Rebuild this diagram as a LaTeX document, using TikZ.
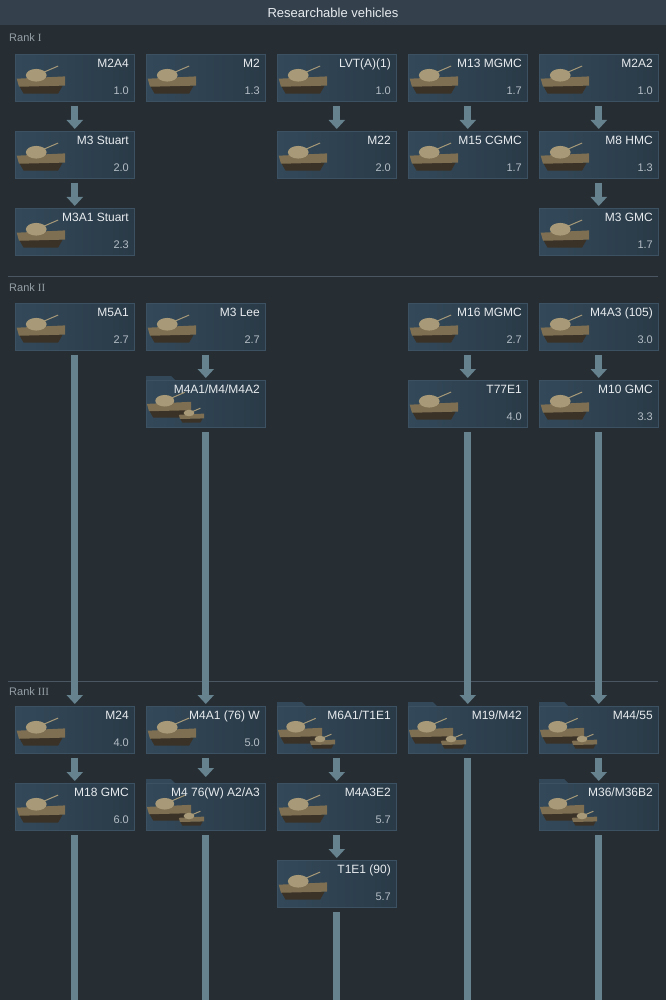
\documentclass[tikz,border=0pt]{standalone}
\usepackage{fontspec}
\setmainfont{Liberation Sans}
\newfontfamily\romf{Liberation Serif}
\usetikzlibrary{arrows.meta}
\definecolor{bg}{HTML}{262D33}
\definecolor{bar}{HTML}{34414D}
\definecolor{cardL}{HTML}{33495A}
\definecolor{cardR}{HTML}{2A3A47}
\definecolor{edge}{HTML}{3C5263}
\definecolor{arr}{HTML}{66828F}
\definecolor{txt}{HTML}{E8ECEF}
\definecolor{brc}{HTML}{B4BEC6}
\definecolor{rk}{HTML}{959FA6}
\definecolor{sep}{HTML}{4A5661}
\definecolor{tan}{HTML}{7E6F52}
\definecolor{tand}{HTML}{3A3227}
\definecolor{tanl}{HTML}{A89A78}
\tikzset{
 x=1pt,y=-1pt,
 card/.style={draw=edge,line width=0.6pt,left color=cardL,right color=cardR,minimum width=119pt,minimum height=47pt,anchor=north west,inner sep=0pt},
 ttl/.style={anchor=north east,text=txt,font=\fontsize{12}{14}\selectfont,inner sep=0pt},
 br/.style={anchor=south east,text=brc,font=\fontsize{11}{13}\selectfont,inner sep=0pt},
 stp/.style={arr,line width=7pt,-{Triangle[width=16pt,length=9pt]}},
 lnk/.style={fill=arr},
 rank/.style={anchor=west,text=rk,font=\fontsize{11}{13}\selectfont,inner sep=0pt},
 tank/.pic={\fill[tand] (-20,4) -- (18,4) -- (14,11) -- (-16,11) -- cycle;
   \fill[tan] (-22,-2) -- (20,-4) -- (20,4) -- (-20,5) -- cycle;
   \fill[tanl] (-5,-5) ellipse (9pt and 5.5pt);
   \draw[tanl,line width=1pt] (0,-7) -- (14,-13);}
}
\newcommand\card[6]{% name, x, y, title, br, group
 \ifnum#6=1 \fill[cardL] (#2,#3) -- (#2,#3-4) -- (#2+25,#3-4) -- (#2+29,#3) -- cycle;\fi
 \node[card] (#1) at (#2,#3) {};
 \node[ttl] (#1-t) at (#2+114,#3+5) {#4};
 \ifnum#6=1
  \pic[scale=1.05] at (#2+24,#3+26) {tank};
  \pic[scale=0.6] at (#2+46,#3+36) {tank};
 \else
  \node[br] (#1-b) at (#2+114,#3+41) {#5};
  \pic[scale=1.15] at (#2+27,#3+27) {tank};
 \fi}
\newcommand\tail[2]{\path[lnk] ([xshift=-3.5pt,yshift=-4pt]#1.south) rectangle ([xshift=3.5pt]#2);}
\begin{document}
\begin{tikzpicture}
\fill[bg] (0,0) rectangle (666,1000);
\useasboundingbox (0,0) rectangle (666,1000);
\fill[bar] (0,0) rectangle (666,25);
\node[text=txt,font=\fontsize{13}{15}\selectfont] (title) at (333,12.5) {Researchable vehicles};
\node[rank] (r1) at (9,38) {Rank {\romf I}};
\draw[sep,line width=0.8pt] (8,276) -- (658,276);
\node[rank] (r2) at (9,288) {Rank {\romf II}};
\draw[sep,line width=0.8pt] (8,681) -- (658,681);
\node[rank] (r3) at (9,692) {Rank {\romf III}};
% column 1
\card{a1}{15}{54}{M2A4}{1.0}{0}
\card{a2}{15}{131}{M3 Stuart}{2.0}{0}
\card{a3}{15}{208}{M3A1 Stuart}{2.3}{0}
\card{a4}{15}{303}{M5A1}{2.7}{0}
\card{a5}{15}{706}{M24}{4.0}{0}
\card{a6}{15}{783}{M18 GMC}{6.0}{0}
% column 2
\card{b1}{146}{54}{M2}{1.3}{0}
\card{b4}{146}{303}{M3 Lee}{2.7}{0}
\card{b5}{146}{380}{M4A1/M4/M4A2}{}{1}
\card{b6}{146}{706}{M4A1 (76) W}{5.0}{0}
\card{b7}{146}{783}{M4 76(W) A2/A3}{}{1}
% column 3
\card{c1}{277}{54}{LVT(A)(1)}{1.0}{0}
\card{c2}{277}{131}{M22}{2.0}{0}
\card{c6}{277}{706}{M6A1/T1E1}{}{1}
\card{c7}{277}{783}{M4A3E2}{5.7}{0}
\card{c8}{277}{860}{T1E1 (90)}{5.7}{0}
% column 4
\card{d1}{408}{54}{M13 MGMC}{1.7}{0}
\card{d2}{408}{131}{M15 CGMC}{1.7}{0}
\card{d4}{408}{303}{M16 MGMC}{2.7}{0}
\card{d5}{408}{380}{T77E1}{4.0}{0}
\card{d6}{408}{706}{M19/M42}{}{1}
% column 5
\card{e1}{539}{54}{M2A2}{1.0}{0}
\card{e2}{539}{131}{M8 HMC}{1.3}{0}
\card{e3}{539}{208}{M3 GMC}{1.7}{0}
\card{e4}{539}{303}{M4A3 (105)}{3.0}{0}
\card{e5}{539}{380}{M10 GMC}{3.3}{0}
\card{e6}{539}{706}{M44/55}{}{1}
\card{e7}{539}{783}{M36/M36B2}{}{1}
% bottom free ends
\foreach \n/\x in {z1/74.5,z2/205.5,z3/336.5,z4/467.5,z5/598.5} \coordinate (\n) at (\x,1000);
% connectors
\draw[stp] ([yshift=-4pt]a1.south) -- ([yshift=2pt]a2.north);
\draw[stp] ([yshift=-4pt]a2.south) -- ([yshift=2pt]a3.north);
\draw[stp] ([yshift=-4pt]a4.south) -- ([yshift=2pt]a5.north);
\draw[stp] ([yshift=-4pt]a5.south) -- ([yshift=2pt]a6.north);
\tail{a6}{z1}
\draw[stp] ([yshift=-4pt]b4.south) -- ([yshift=2pt]b5.north);
\draw[stp] ([yshift=-4pt]b5.south) -- ([yshift=2pt]b6.north);
\draw[stp] ([yshift=-4pt]b6.south) -- ([yshift=6pt]b7.north);
\tail{b7}{z2}
\draw[stp] ([yshift=-4pt]c1.south) -- ([yshift=2pt]c2.north);
\draw[stp] ([yshift=-4pt]c6.south) -- ([yshift=2pt]c7.north);
\draw[stp] ([yshift=-4pt]c7.south) -- ([yshift=2pt]c8.north);
\tail{c8}{z3}
\draw[stp] ([yshift=-4pt]d1.south) -- ([yshift=2pt]d2.north);
\draw[stp] ([yshift=-4pt]d4.south) -- ([yshift=2pt]d5.north);
\draw[stp] ([yshift=-4pt]d5.south) -- ([yshift=2pt]d6.north);
\tail{d6}{z4}
\draw[stp] ([yshift=-4pt]e1.south) -- ([yshift=2pt]e2.north);
\draw[stp] ([yshift=-4pt]e2.south) -- ([yshift=2pt]e3.north);
\draw[stp] ([yshift=-4pt]e4.south) -- ([yshift=2pt]e5.north);
\draw[stp] ([yshift=-4pt]e5.south) -- ([yshift=2pt]e6.north);
\draw[stp] ([yshift=-4pt]e6.south) -- ([yshift=2pt]e7.north);
\tail{e7}{z5}
\end{tikzpicture}
\end{document}
